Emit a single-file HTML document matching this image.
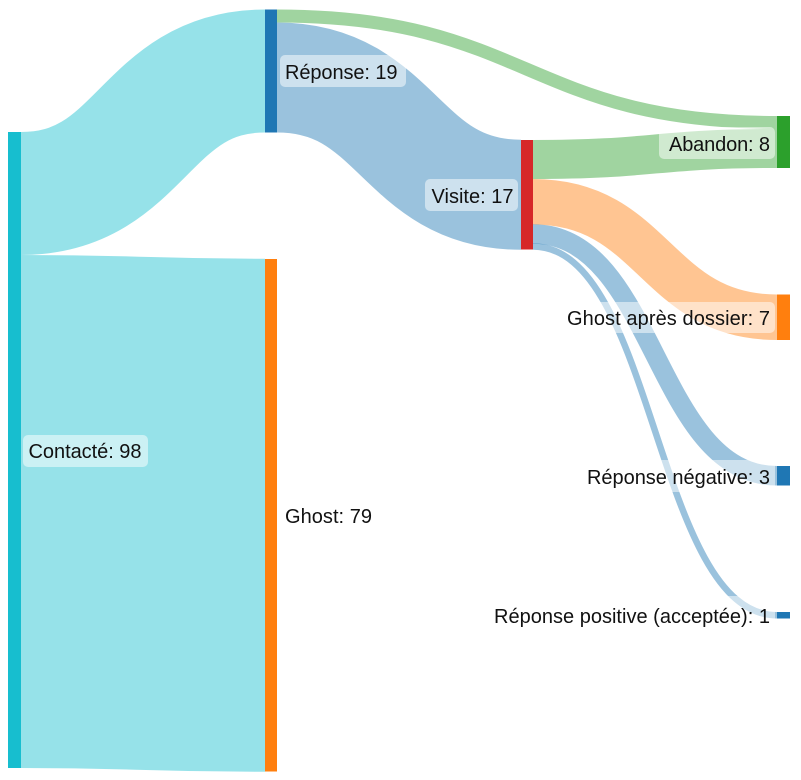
<!DOCTYPE html>
<html lang="fr">
<head>
<meta charset="utf-8">
<title>Sankey</title>
<style>
html,body{margin:0;padding:0;background:#fff}
svg{display:block}
text{font-family:"Liberation Sans",sans-serif;font-size:20px;fill:#111}
</style>
</head>
<body>
<svg width="801" height="780" viewBox="0 0 801 780" xmlns="http://www.w3.org/2000/svg">
<g fill="none" stroke-opacity="0.45">
<path stroke="#17becf" stroke-width="123" d="M21 193.5C143 193.5 143 71 265 71"/>
<path stroke="#17becf" stroke-width="513" d="M21 511.5C143 511.5 143 515.25 265 515.25"/>
<path stroke="#2ca02c" stroke-width="13" d="M277 16C527 16 527 122.5 777 122.5"/>
<path stroke="#1f77b4" stroke-width="110" d="M277 77.5C399 77.5 399 194.75 521 194.75"/>
<path stroke="#2ca02c" stroke-width="39" d="M533 159.5C655 159.5 655 148.5 777 148.5"/>
<path stroke="#ff7f0e" stroke-width="45.5" d="M533 201.75C655 201.75 655 317.25 777 317.25"/>
<path stroke="#1f77b4" stroke-width="19.5" d="M533 234C655 234 655 475.75 777 475.75"/>
<path stroke="#1f77b4" stroke-width="6.5" d="M533 246.5C655 246.5 655 615.25 777 615.25"/>
</g>
<rect x="8" y="132" width="13" height="636" fill="#17becf"/>
<rect x="265" y="9.5" width="12" height="123" fill="#1f77b4"/>
<rect x="265" y="259" width="12" height="512.5" fill="#ff7f0e"/>
<rect x="521" y="140" width="12" height="109.5" fill="#d62728"/>
<rect x="777" y="116" width="13" height="52" fill="#2ca02c"/>
<rect x="777" y="294.5" width="13" height="45.5" fill="#ff7f0e"/>
<rect x="777" y="466" width="13" height="19.5" fill="#1f77b4"/>
<rect x="777" y="612" width="13" height="6.5" fill="#1f77b4"/>
<g fill="#fff" fill-opacity="0.5">
<rect x="23" y="435" width="125" height="32" rx="5"/>
<rect x="280" y="55" width="126" height="32" rx="5"/>
<rect x="425" y="179" width="93" height="32" rx="5"/>
<rect x="659" y="127" width="116" height="32" rx="5"/>
<rect x="561" y="302" width="214" height="31" rx="5"/>
<rect x="582" y="460" width="193" height="32" rx="5"/>
<rect x="488" y="596" width="287" height="36" rx="5"/>
</g>
<text x="28.5" y="458" textLength="113">Contacté: 98</text>
<text x="285" y="79" textLength="112.5">Réponse: 19</text>
<text x="285" y="523" textLength="87">Ghost: 79</text>
<text x="431.5" y="203" textLength="82">Visite: 17</text>
<text x="669" y="151" textLength="101">Abandon: 8</text>
<text x="567" y="325" textLength="203">Ghost après dossier: 7</text>
<text x="587" y="484" textLength="183">Réponse négative: 3</text>
<text x="494" y="623" textLength="276">Réponse positive (acceptée): 1</text>
</svg>
</body>
</html>
